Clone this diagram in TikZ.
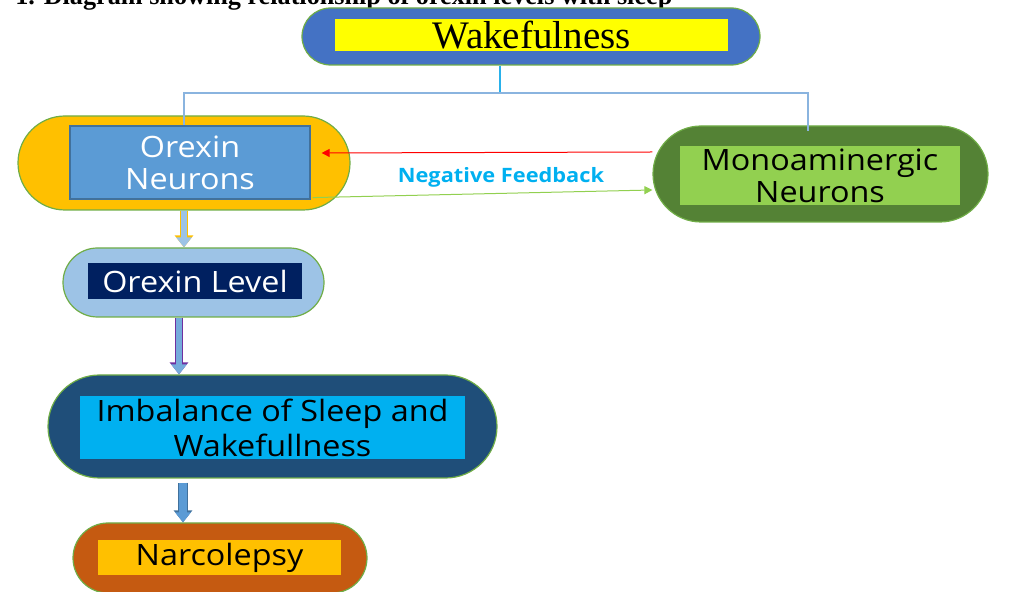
\documentclass[tikz,border=0pt]{standalone}
\usepackage{fontspec}
\setmainfont{Liberation Serif}
\newfontfamily\boxfont[FakeStretch=1.1]{Open Sans}
\usetikzlibrary{arrows.meta,shapes.misc,calc}
\definecolor{cWake}{HTML}{4472C4}
\definecolor{cYellow}{HTML}{FFFF00}
\definecolor{cOrange}{HTML}{FFC000}
\definecolor{cMid}{HTML}{5B9BD5}
\definecolor{cMidEdge}{HTML}{41719C}
\definecolor{cDkGreen}{HTML}{548235}
\definecolor{cLtGreen}{HTML}{92D050}
\definecolor{cPale}{HTML}{9DC3E6}
\definecolor{cNavy}{HTML}{002060}
\definecolor{cDeep}{HTML}{1F4E79}
\definecolor{cCyan}{HTML}{00B0F0}
\definecolor{cRust}{HTML}{C55A11}
\definecolor{cEdge}{HTML}{70AD47}
\definecolor{cTree}{HTML}{8AB4DF}
\definecolor{cPurple}{HTML}{7030A0}
\tikzset{
  pill/.style={rounded rectangle, draw=cEdge, line width=0.6pt, fill=#1, inner sep=0pt},
  inbox/.style={rectangle, fill=#1, inner sep=0pt, align=center,
                font=\boxfont\fontsize{14.7}{16}\selectfont},
  tree/.style={line width=1.1pt, draw=cTree},
  fb/.style={-{Triangle[length=4pt,width=4pt]}, line width=0.5pt, draw=#1},
  fblbl/.style={font=\boxfont\bfseries\fontsize{9.9}{11}\selectfont, text=cCyan, inner sep=1pt},
  blk/.style n args={3}{line width=#3, draw=#1, -{Triangle[length=5pt,width=7.5pt]},
                     preaction={draw=#2, line width=#3+1.2pt, -{Triangle[length=6pt,width=9pt]}}},
}

\begin{document}
\begin{tikzpicture}[x=0.5pt,y=-0.5pt]
  \useasboundingbox (0,0) rectangle (1019,592);
  % title, cut off at the top
  \node[anchor=base west, font=\bfseries\fontsize{13.1}{15}\selectfont, inner sep=0pt] (title) at (15,5)
    {1. Diagram showing relationship of orexin levels with sleep};
  % boxes
  \node[pill=cWake, minimum width=229pt, minimum height=28.5pt] (wakeOut) at (531,36.5) {};
  \node[inbox=cYellow, minimum width=196.5pt, minimum height=16pt, font=\fontsize{19.5}{22}\selectfont] (wake) at (531.5,35) {Wakefulness};
  \node[pill=cOrange, minimum width=166pt, minimum height=47pt] (orexOut) at (184,163) {};
  \node[inbox=cMid, draw=cMidEdge, line width=0.6pt, text=white, minimum width=120pt, minimum height=36.5pt] (orex) at (190,162.5) {Orexin\\Neurons};
  \node[pill=cDkGreen, minimum width=167.5pt, minimum height=48pt] (monoOut) at (820.5,174) {};
  \node[inbox=cLtGreen, minimum width=140pt, minimum height=29.5pt] (mono) at (820,175.5) {Monoaminergic\\Neurons};
  \node[pill=cPale, minimum width=130.5pt, minimum height=34.5pt] (levelOut) at (193.5,282.5) {};
  \node[inbox=cNavy, text=white, minimum width=107pt, minimum height=18pt] (level) at (195,281) {Orexin Level};
  \node[pill=cDeep, minimum width=224.5pt, minimum height=51.5pt] (imbOut) at (272.5,426.5) {};
  \node[inbox=cCyan, minimum width=192.5pt, minimum height=31.5pt, font=\boxfont\fontsize{14.7}{17.5}\selectfont] (imb) at (272.5,427.5) {Imbalance of Sleep and\\Wakefullness};
  \node[pill=cRust, minimum width=147pt, minimum height=35pt] (narcOut) at (220,558) {};
  \node[inbox=cOrange, minimum width=121.5pt, minimum height=17.5pt] (narc) at (219.5,557.5) {Narcolepsy};
  % tree from wakefulness
  \coordinate (split) at (500,93);
  \draw[tree, draw=cCyan!70!cTree, line width=0.8pt] (500,0 |- wakeOut.south) -- (split);
  \draw[tree] (split) -| (184,0 |- orex.north);
  \draw[tree] (split) -| ($(808,0 |- monoOut.north)+(0,6)$);
  % feedback loop
  \draw[fb=red] (monoOut.west |- 0,152) -- ($(orex.east |- 0,153)+(11,0)$);
  \draw[fb=cLtGreen] ($(orex.south east)+(2,-2)$) -- (monoOut.west |- 0,190);
  \node[fblbl] (fbtxt) at (501,177) {Negative Feedback};
  % block arrows
  \draw[blk={cPale}{cOrange}{2.6pt}] (orexOut.south) -- (184,0 |- levelOut.north);
  \draw[blk={cMid!60!cPale}{cPurple}{2.6pt}] (179,0 |- levelOut.south) -- (179,0 |- imbOut.north);
  \draw[blk={cMid}{cMidEdge}{3.6pt}] ($(183,0 |- imbOut.south)+(0,4)$) -- (183,0 |- narcOut.north);
\end{tikzpicture}
\end{document}
